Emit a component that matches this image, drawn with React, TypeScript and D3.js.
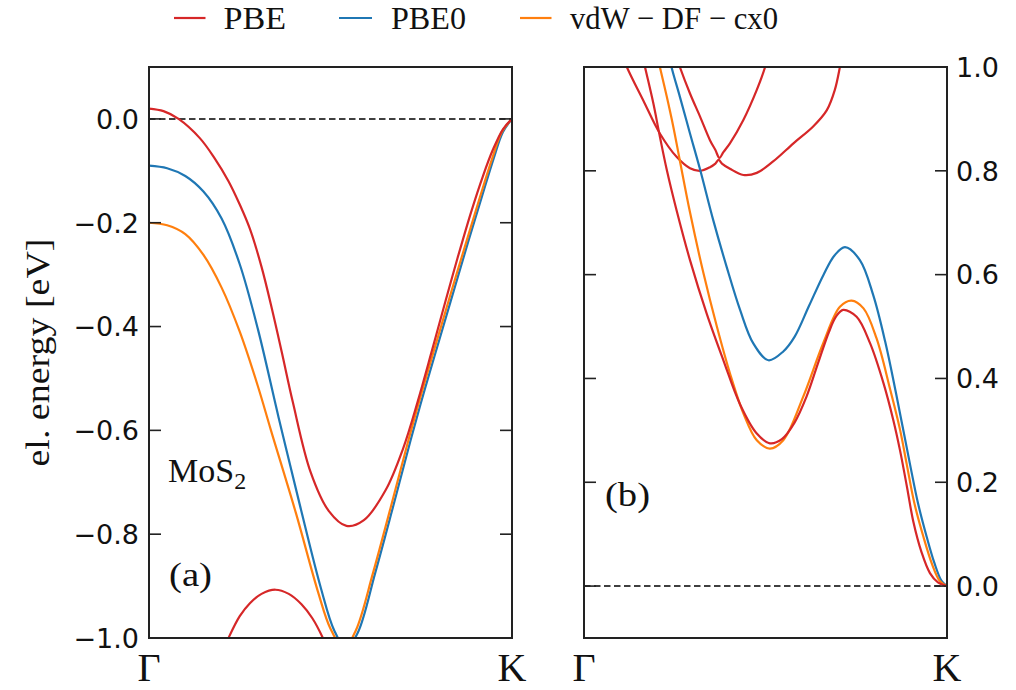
import React from 'react';
import * as d3 from 'd3';

type P = [number, number];

// ---- Panel (a): valence bands, k from Γ (0) to K (1), energy in eV ----
const pbeVB1: P[] = [[0, 0.02], [0.04, 0.015], [0.0815, 0.0], [0.14, -0.037], [0.18, -0.075], [0.219, -0.12], [0.25, -0.165], [0.278, -0.212], [0.31, -0.285], [0.34, -0.37], [0.366, -0.45], [0.396, -0.545], [0.445, -0.68], [0.495, -0.755], [0.544, -0.784], [0.592, -0.773], [0.652, -0.715], [0.70, -0.635], [0.74, -0.545], [0.78, -0.445], [0.818, -0.348], [0.85, -0.268], [0.888, -0.178], [0.92, -0.11], [0.947, -0.06], [0.975, -0.02], [1.0, 0]];
const pbeVB2: P[] = [[0.17, -1.08], [0.219, -1.0], [0.25, -0.958], [0.278, -0.933], [0.31, -0.915], [0.348, -0.907], [0.385, -0.915], [0.42, -0.935], [0.45, -0.962], [0.479, -1.0], [0.52, -1.07]];
const pbe0VB1: P[] = [[0, -0.09], [0.05, -0.095], [0.1, -0.11], [0.15, -0.14], [0.2, -0.192], [0.25, -0.28], [0.3, -0.405], [0.357, -0.575], [0.416, -0.745], [0.474, -0.905], [0.51, -0.985], [0.543, -1.02], [0.575, -0.99], [0.623, -0.875], [0.672, -0.748], [0.721, -0.618], [0.76, -0.52], [0.80, -0.425], [0.84, -0.33], [0.88, -0.235], [0.917, -0.15], [0.95, -0.075], [0.975, -0.025], [1.0, 0]];
const vdwVB1: P[] = [[0, -0.2], [0.05, -0.205], [0.1, -0.222], [0.15, -0.262], [0.2, -0.325], [0.25, -0.41], [0.3, -0.515], [0.336, -0.6], [0.405, -0.76], [0.466, -0.912], [0.50, -0.982], [0.537, -1.02], [0.57, -0.985], [0.617, -0.875], [0.666, -0.748], [0.715, -0.618], [0.754, -0.52], [0.794, -0.425], [0.834, -0.33], [0.875, -0.235], [0.912, -0.15], [0.946, -0.075], [0.972, -0.025], [1.0, 0]];

// ---- Panel (b): conduction bands ----
const pbeCB1: P[] = [[0.135, 1.10], [0.168, 1.0], [0.191, 0.930], [0.209, 0.866], [0.228, 0.802], [0.255, 0.724], [0.292, 0.628], [0.338, 0.525], [0.384, 0.435], [0.430, 0.350], [0.476, 0.294], [0.512, 0.275], [0.545, 0.283], [0.58, 0.315], [0.613, 0.365], [0.645, 0.43], [0.675, 0.49], [0.695, 0.52], [0.714, 0.532], [0.751, 0.519], [0.788, 0.468], [0.825, 0.391], [0.852, 0.320], [0.871, 0.26], [0.89, 0.19], [0.907, 0.125], [0.93, 0.065], [0.953, 0.025], [0.975, 0.007], [1.0, 0]];
const vdwCB1: P[] = [[0.19, 1.06], [0.209, 1.0], [0.228, 0.943], [0.246, 0.885], [0.264, 0.82], [0.292, 0.72], [0.329, 0.603], [0.366, 0.50], [0.402, 0.41], [0.439, 0.333], [0.476, 0.281], [0.512, 0.265], [0.549, 0.281], [0.604, 0.365], [0.659, 0.468], [0.705, 0.538], [0.737, 0.550], [0.77, 0.535], [0.806, 0.477], [0.843, 0.38], [0.871, 0.30], [0.889, 0.235], [0.91, 0.16], [0.935, 0.095], [0.96, 0.04], [0.98, 0.01], [1.0, 0]];
const pbe0CB1: P[] = [[0.222, 1.06], [0.241, 1.0], [0.264, 0.943], [0.292, 0.872], [0.320, 0.802], [0.356, 0.705], [0.393, 0.615], [0.430, 0.532], [0.466, 0.468], [0.508, 0.435], [0.549, 0.452], [0.58, 0.48], [0.62, 0.54], [0.66, 0.60], [0.69, 0.637], [0.719, 0.653], [0.76, 0.628], [0.797, 0.56], [0.83, 0.47], [0.86, 0.37], [0.898, 0.235], [0.92, 0.16], [0.944, 0.095], [0.965, 0.045], [0.985, 0.01], [1.0, 0]];
const pbeCB2: P[] = [[0.09, 1.05], [0.118, 1.0], [0.163, 0.936], [0.209, 0.872], [0.255, 0.827], [0.292, 0.805], [0.320, 0.800], [0.347, 0.807], [0.362, 0.814], [0.371, 0.821], [0.38, 0.814], [0.402, 0.804], [0.439, 0.792], [0.476, 0.796], [0.521, 0.818], [0.577, 0.853], [0.632, 0.886], [0.669, 0.917], [0.691, 0.956], [0.705, 1.0], [0.715, 1.04]];
const pbeCB3: P[] = [[0.25, 1.03], [0.264, 1.0], [0.292, 0.949], [0.320, 0.904], [0.347, 0.859], [0.362, 0.840], [0.373, 0.825], [0.384, 0.836], [0.402, 0.853], [0.439, 0.898], [0.476, 0.956], [0.499, 1.0], [0.51, 1.03]];

const leftTicks = [-1.0, -0.8, -0.6, -0.4, -0.2, 0.0];
const rightTicks = [0.0, 0.2, 0.4, 0.6, 0.8, 1.0];
const kLabels = ['Γ', 'K'];
const legendLabels = ['PBE', 'PBE0', 'vdW − DF − cx0'];
const legendColors = ['#d62728', '#1f77b4', '#ff7f0e'];

const RED = '#d62728', BLUE = '#1f77b4', ORANGE = '#ff7f0e';
const SERIF = '"Liberation Serif", "Times New Roman", serif';
const SANS = '"DejaVu Sans", sans-serif';

export default function App() {
  const xL = d3.scaleLinear().domain([0, 1]).range([149, 512]);
  const yL = d3.scaleLinear().domain([-1.0, 0.1]).range([638, 67]);
  const xR = d3.scaleLinear().domain([0, 1]).range([584, 947]);
  const yR = d3.scaleLinear().domain([-0.1, 1.0]).range([638, 67]);
  const fmt = d3.format('.1f');

  const curve = d3.curveCatmullRom.alpha(0.5);
  const lineL = d3.line<P>().x(d => xL(d[0])).y(d => yL(d[1])).curve(curve);
  const lineR = d3.line<P>().x(d => xR(d[0])).y(d => yR(d[1])).curve(curve);

  const leftSeries: [P[], string][] = [[pbeVB2, RED], [pbe0VB1, BLUE], [vdwVB1, ORANGE], [pbeVB1, RED]];
  const rightSeries: [P[], string][] = [[pbeCB2, RED], [pbeCB3, RED], [pbe0CB1, BLUE], [vdwCB1, ORANGE], [pbeCB1, RED]];

  const tickLen = 12;
  const lw = 2.2;

  const legendLine = [[174, 205.5], [339, 372], [520, 551.5]];
  const legendText = [[223.5, 62.5], [391, 75], [570, 208]];

  return (
    <svg width={1016} height={690} style={{ position: 'absolute', left: 0, top: 0, background: '#fff' }}>
      <defs>
        <clipPath id="clipL"><rect x={xL(0)} y={yL(0.1)} width={xL(1) - xL(0)} height={yL(-1.0) - yL(0.1)} /></clipPath>
        <clipPath id="clipR"><rect x={xR(0)} y={yR(1.0)} width={xR(1) - xR(0)} height={yR(-0.1) - yR(1.0)} /></clipPath>
      </defs>
      <rect x={0} y={0} width={1016} height={690} fill="#fff" />

      {/* Legend */}
      {legendLabels.map((lab, i) => (
        <g key={lab}>
          <line x1={legendLine[i][0]} x2={legendLine[i][1]} y1={18} y2={18} stroke={legendColors[i]} strokeWidth={lw} />
          <text x={legendText[i][0]} y={29} fontFamily={SERIF} fontSize={32} textLength={legendText[i][1]} lengthAdjust="spacingAndGlyphs" fill="#111">{lab}</text>
        </g>
      ))}

      {/* Panel (a) */}
      <g clipPath="url(#clipL)">
        <line x1={xL(0)} x2={xL(1)} y1={yL(0)} y2={yL(0)} stroke="#000" strokeWidth={1.5} strokeDasharray="6.5,3.5" />
        {leftSeries.map(([d, c], i) => (
          <path key={i} d={lineL(d) || ''} fill="none" stroke={c} strokeWidth={lw} />
        ))}
      </g>
      {leftTicks.map(t => (
        <g key={'lt' + t}>
          <line x1={xL(0)} x2={xL(0) + tickLen} y1={yL(t)} y2={yL(t)} stroke="#222" strokeWidth={1.6} />
          <line x1={xL(1) - tickLen} x2={xL(1)} y1={yL(t)} y2={yL(t)} stroke="#222" strokeWidth={1.6} />
          <text x={xL(0) - 10} y={yL(t) + 9.8} textAnchor="end" fontFamily={SANS} fontSize={27} fill="#111">{fmt(t)}</text>
        </g>
      ))}
      <rect x={xL(0)} y={yL(0.1)} width={xL(1) - xL(0)} height={yL(-1.0) - yL(0.1)} fill="none" stroke="#222" strokeWidth={2} />

      {/* Panel (b) */}
      <g clipPath="url(#clipR)">
        <line x1={xR(0)} x2={xR(1)} y1={yR(0)} y2={yR(0)} stroke="#000" strokeWidth={1.5} strokeDasharray="6.5,3.5" />
        {rightSeries.map(([d, c], i) => (
          <path key={i} d={lineR(d) || ''} fill="none" stroke={c} strokeWidth={lw} />
        ))}
      </g>
      {rightTicks.map(t => (
        <g key={'rt' + t}>
          <line x1={xR(0)} x2={xR(0) + tickLen} y1={yR(t)} y2={yR(t)} stroke="#222" strokeWidth={1.6} />
          <line x1={xR(1) - tickLen} x2={xR(1)} y1={yR(t)} y2={yR(t)} stroke="#222" strokeWidth={1.6} />
          <text x={xR(1) + 9} y={yR(t) + 9.8} textAnchor="start" fontFamily={SANS} fontSize={27} fill="#111">{fmt(t)}</text>
        </g>
      ))}
      <rect x={xR(0)} y={yR(1.0)} width={xR(1) - xR(0)} height={yR(-0.1) - yR(1.0)} fill="none" stroke="#222" strokeWidth={2} />

      {/* k-point labels */}
      {[xL, xR].map((xs, j) => kLabels.map((lab, i) => (
        <text key={j + lab} x={xs(i)} y={681} textAnchor="middle" fontFamily={SERIF} fontSize={40} fill="#111">{lab}</text>
      )))}

      {/* Annotations */}
      <text x={168} y={482} fontFamily={SERIF} fontSize={34} fill="#111">MoS<tspan fontSize={24} dy={7}>2</tspan></text>
      <text x={169} y={586} fontFamily={SERIF} fontSize={34} textLength={43} lengthAdjust="spacingAndGlyphs" fill="#111">(a)</text>
      <text x={605} y={506} fontFamily={SERIF} fontSize={34} textLength={45} lengthAdjust="spacingAndGlyphs" fill="#111">(b)</text>

      {/* Y label */}
      <text transform={`translate(49, ${(yL(0.1) + yL(-1.0)) / 2}) rotate(-90)`} textAnchor="middle" fontFamily={SERIF} fontSize={33} textLength={228} lengthAdjust="spacingAndGlyphs" fill="#111">el. energy [eV]</text>
    </svg>
  );
}
